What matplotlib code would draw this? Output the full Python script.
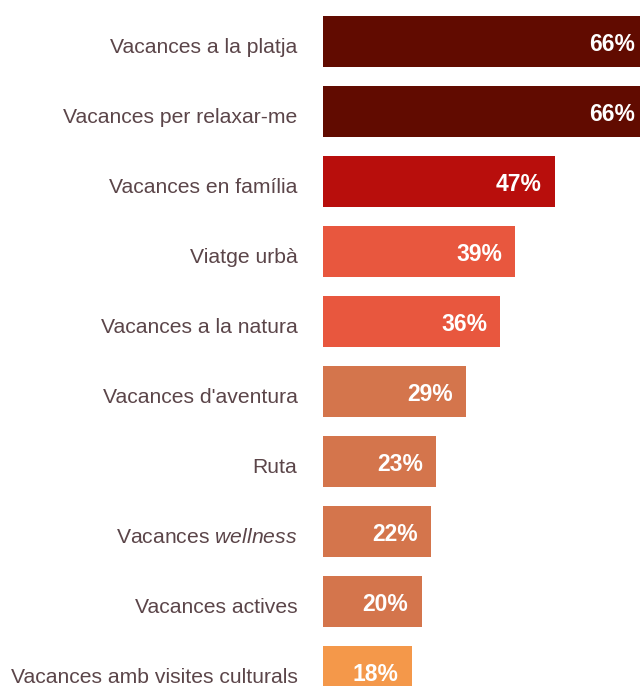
import matplotlib.pyplot as plt
import matplotlib as mpl
from matplotlib.transforms import ScaledTranslation

categories = [
    "Vacances a la platja",
    "Vacances per relaxar-me",
    "Vacances en família",
    "Viatge urbà",
    "Vacances a la natura",
    "Vacances d'aventura",
    "Ruta",
    r"Vacances $\it{wellness}$",
    "Vacances actives",
    "Vacances amb visites culturals",
]
values = [66, 66, 47, 39, 36, 29, 23, 22, 20, 18]
colors = ["#610b00", "#610b00", "#b80e0c", "#e8573e", "#e8573e",
          "#d4754c", "#d4754c", "#d4754c", "#d4754c", "#f4984a"]

mpl.rcParams["font.family"] = ["Liberation Sans", "DejaVu Sans"]
mpl.rcParams["mathtext.fontset"] = "custom"
mpl.rcParams["mathtext.rm"] = "Liberation Sans"
mpl.rcParams["mathtext.it"] = "Liberation Sans:italic"

fig = plt.figure(figsize=(6.4, 6.86), dpi=100)
ax = fig.add_axes([323 / 640, 0, 317 / 640, 1])

pos = list(range(len(values)))
ax.barh(pos, values, height=0.73, color=colors, zorder=2)

for y, v in zip(pos, values):
    ax.annotate("{}%".format(v), (v, y), xytext=(-9.5, -2.5), textcoords="offset points",
                ha="right", va="center", color="white", fontsize=16.5,
                fontweight="bold", annotation_clip=False)

# category labels left of the bars
lab_tr = ax.get_yaxis_transform() + ScaledTranslation(-0.255, -0.035, fig.dpi_scale_trans)
for y, name in zip(pos, categories):
    ax.text(0, y, name, transform=lab_tr, ha="right", va="center_baseline",
            fontsize=15.2, color="#5b4549", clip_on=False)

ax.set_xlim(0, 64.3)
ax.set_ylim(9.207, -0.593)
ax.set_xticks([])
ax.set_yticks([])
for s in ax.spines.values():
    s.set_visible(False)

fig.savefig("out.png", dpi=100)
